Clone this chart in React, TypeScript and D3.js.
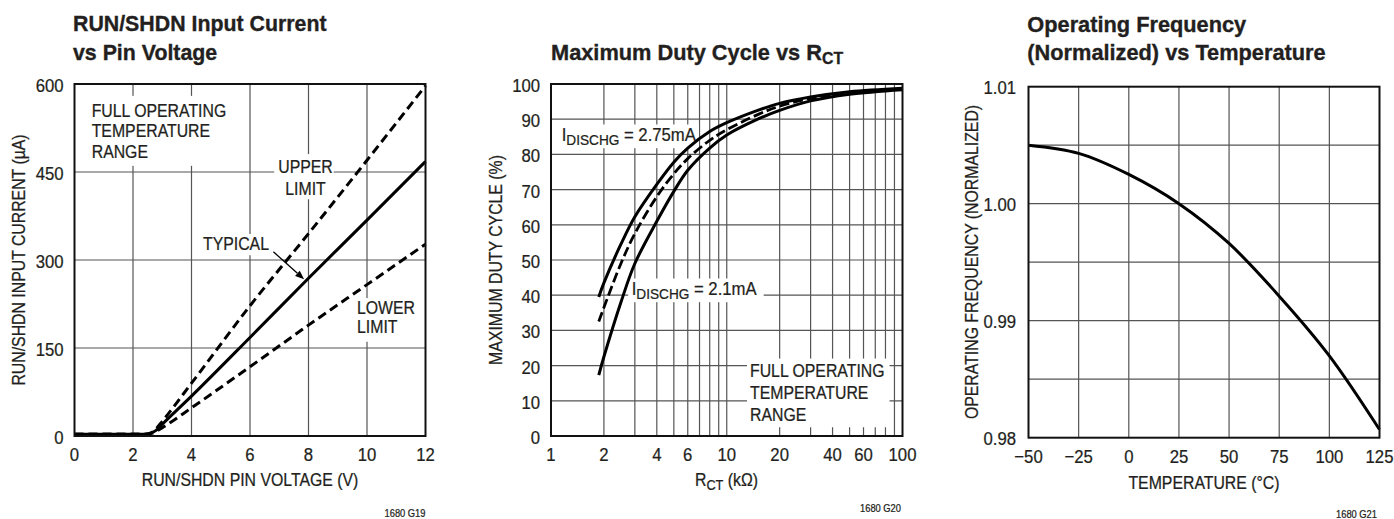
import React, { useEffect, useRef } from 'react';
import * as d3 from 'd3';

type Pt = [number, number];

// ---------- Chart 1: RUN/SHDN input current ----------
const c1Title = ['RUN/SHDN Input Current', 'vs Pin Voltage'];
const c1XTicks = [0, 2, 4, 6, 8, 10, 12];
const c1YTicks = [0, 150, 300, 450, 600];
const c1Typical: Pt[] = [[0, 3], [2.4, 3], [2.6, 5], [2.8, 10], [3, 20], [4, 68], [6, 168], [8, 269], [10, 368], [12, 468]];
const c1Upper: Pt[] = [[0, 3], [2.4, 3], [2.6, 5], [2.8, 13], [3, 25], [4, 90], [6, 222], [8, 345], [10, 470], [12, 597]];
const c1Lower: Pt[] = [[0, 3], [2.4, 3], [2.6, 4], [2.8, 8], [3, 14], [4, 48], [6, 118], [8, 189], [10, 258], [12, 327]];
const c1Arrow: Pt[] = [[6.8, 314], [7.85, 267]];

// ---------- Chart 2: Maximum duty cycle ----------
const c2XTicks = [1, 2, 4, 6, 10, 20, 40, 60, 100];
const c2XGrid = [2, 3, 4, 5, 6, 7, 8, 9, 10, 20, 30, 40, 50, 60, 70, 80, 90];
const c2YTicks = [0, 10, 20, 30, 40, 50, 60, 70, 80, 90, 100];
const c2High: Pt[] = [[1.87, 39.5], [2, 43.5], [2.5, 54.5], [3, 62.3], [4, 71.5], [5, 77.8], [6, 81.8], [8, 86.5], [10, 89], [15, 92.5], [20, 94.5], [30, 96.3], [50, 97.8], [100, 98.8]];
const c2Mid: Pt[] = [[1.87, 32.5], [2, 36.5], [2.5, 49], [3, 57.5], [4, 68], [5, 74.5], [6, 78.8], [8, 84], [10, 87], [15, 91.3], [20, 93.7], [30, 95.9], [50, 97.5], [100, 98.6]];
const c2Low: Pt[] = [[1.87, 17.3], [2, 22.5], [2.5, 38], [3, 49], [4, 61], [5, 69.5], [6, 75.5], [8, 81.8], [10, 85.5], [15, 90], [20, 92.5], [30, 95.2], [50, 97.1], [100, 98.4]];

// ---------- Chart 3: Operating frequency vs temperature ----------
const c3XTicks = [-50, -25, 0, 25, 50, 75, 100, 125];
const c3YGrid = [0.98, 0.985, 0.99, 0.995, 1.0, 1.005, 1.01];
const c3YTicks = [0.98, 0.99, 1.0, 1.01];
const c3Temp = [-50, -25, 0, 25, 50, 75, 100, 125];
const c3Freq = [1.005, 1.0043, 1.0025, 1.0, 0.9966, 0.9921, 0.987, 0.9807];

const FONT = "'Liberation Sans', Arial, Helvetica, sans-serif";
const INK = '#231f20';
const GRID = '#555';
const SX = 0.88;

type Seg = { t: string; sub?: boolean };
type Line = string | Seg[];
type Opt = { size?: number; anchor?: string; weight?: string; sx?: number; rot?: number; lh?: number; box?: number[]; subSize?: number; subDy?: number };

function label(parent: any, x: number, y: number, lines: Line[], o: Opt = {}) {
  const size = o.size ?? 18;
  const sx = o.sx ?? SX;
  const lh = o.lh ?? 20.5;
  const g = parent.append('g').attr('transform', `translate(${x},${y})${o.rot ? ` rotate(${o.rot})` : ''} scale(${sx},1)`);
  const tg = g.append('g');
  lines.forEach((ln, i) => {
    const t = tg.append('text').attr('x', 0).attr('y', i * lh)
      .attr('font-family', FONT).attr('font-size', size)
      .attr('font-weight', o.weight ?? 'normal')
      .attr('text-anchor', o.anchor ?? 'start').attr('fill', INK)
      .attr('stroke', INK).attr('stroke-width', o.weight === 'bold' ? 0.35 : 0.25);
    if (typeof ln === 'string') t.text(ln);
    else {
      let shifted = false;
      const d = o.subDy ?? 4;
      ln.forEach((s) => {
        const sp = t.append('tspan').text(s.t);
        if (s.sub) {
          sp.attr('font-size', o.subSize ?? size * 0.8);
          if (!shifted) { sp.attr('dy', d); shifted = true; }
        } else if (shifted) { sp.attr('dy', -d); shifted = false; }
      });
    }
  });
  if (o.box) {
    const [l, tp, r, b] = o.box;
    const bb = (tg.node() as SVGGElement).getBBox();
    g.insert('rect', ':first-child')
      .attr('x', bb.x - l / sx).attr('y', bb.y - tp)
      .attr('width', bb.width + (l + r) / sx).attr('height', bb.height + tp + b)
      .attr('fill', '#fff');
  }
  return g;
}

function grid(g: any, xs: any, ys: any, xv: number[], yv: number[]) {
  const [x0, x1] = xs.range();
  const [y0, y1] = ys.range();
  xv.forEach((v) => g.append('line').attr('x1', xs(v)).attr('x2', xs(v)).attr('y1', y0).attr('y2', y1).attr('stroke', GRID).attr('stroke-width', 1.2));
  yv.forEach((v) => g.append('line').attr('x1', x0).attr('x2', x1).attr('y1', ys(v)).attr('y2', ys(v)).attr('stroke', GRID).attr('stroke-width', 1.2));
}

function frame(g: any, xs: any, ys: any) {
  const [x0, x1] = xs.range();
  const [y0, y1] = ys.range();
  g.append('rect').attr('x', x0).attr('y', y1).attr('width', x1 - x0).attr('height', y0 - y1)
    .attr('fill', 'none').attr('stroke', '#111').attr('stroke-width', 2);
}

function curve(g: any, xs: any, ys: any, data: Pt[], dash?: string, w = 3, cv: any = d3.curveCatmullRom.alpha(0.5)) {
  const gen = d3.line<Pt>().x((d) => xs(d[0])).y((d) => ys(d[1])).curve(cv);
  g.append('path').attr('d', gen(data)).attr('fill', 'none').attr('stroke', '#000')
    .attr('stroke-width', w).attr('stroke-dasharray', dash ?? null);
}

function ticks(g: any, xs: any, ys: any, xv: number[], yv: number[], fx: (v: number) => string, fy: (v: number) => string, yOff = 8, gap = 11) {
  const [x0] = xs.range();
  const [y0] = ys.range();
  xv.forEach((v) => label(g, xs(v), y0 + 25, [fx(v)], { size: 19, anchor: 'middle' }));
  yv.forEach((v) => label(g, x0 - gap, ys(v) + yOff, [fy(v)], { size: 19, anchor: 'end' }));
}

export default function App() {
  const ref = useRef<SVGSVGElement>(null);
  useEffect(() => {
    const svg = d3.select(ref.current);
    svg.selectAll('*').remove();
    svg.append('rect').attr('width', 1394).attr('height', 519).attr('fill', '#fff');

    // ---- Chart 1 ----
    const x1 = d3.scaleLinear().domain([0, 12]).range([74.5, 425.5]);
    const y1 = d3.scaleLinear().domain([0, 600]).range([436, 84]);
    const g1 = svg.append('g');
    grid(g1, x1, y1, c1XTicks.slice(1, -1), c1YTicks.slice(1, -1));
    label(g1, 91.7, 116.8, ['FULL OPERATING', 'TEMPERATURE', 'RANGE'], { lh: 20.4, box: [16, 5, 4, 4] });
    label(g1, 305.5, 173, ['UPPER', 'LIMIT'], { anchor: 'middle', lh: 22, box: [4, 3, 1, 0] });
    label(g1, 203, 250, ['TYPICAL'], { box: [3, 0, 3, 1] });
    label(g1, 357, 314, ['LOWER', 'LIMIT'], { lh: 19.5, box: [3, 0, 3, 4] });
    curve(g1, x1, y1, c1Upper, '9,5', 3, d3.curveMonotoneX);
    curve(g1, x1, y1, c1Lower, '9,5', 3, d3.curveMonotoneX);
    curve(g1, x1, y1, c1Typical, undefined, 3, d3.curveMonotoneX);
    {
      const ax0 = x1(c1Arrow[0][0]), ay0 = y1(c1Arrow[0][1]);
      const ax1 = x1(c1Arrow[1][0]), ay1 = y1(c1Arrow[1][1]);
      const ang = Math.atan2(ay1 - ay0, ax1 - ax0);
      const L = 9, Wd = 3.5;
      const bx = ax1 - L * Math.cos(ang), by = ay1 - L * Math.sin(ang);
      g1.append('line').attr('x1', ax0).attr('y1', ay0).attr('x2', bx).attr('y2', by).attr('stroke', '#000').attr('stroke-width', 1.3);
      const px = -Math.sin(ang) * Wd, py = Math.cos(ang) * Wd;
      g1.append('polygon').attr('points', `${ax1},${ay1} ${bx + px},${by + py} ${bx - px},${by - py}`).attr('fill', '#000');
    }
    frame(g1, x1, y1);
    ticks(g1, x1, y1, c1XTicks, c1YTicks, (v) => String(v), (v) => String(v), 8, 11);
    label(g1, 250, 486, ['RUN/SHDN PIN VOLTAGE (V)'], { anchor: 'middle' });
    label(g1, 25, 260, ['RUN/SHDN INPUT CURRENT (µA)'], { anchor: 'middle', rot: -90 });
    label(g1, 73, 30.7, c1Title, { size: 22, weight: 'bold', sx: 0.97, lh: 29.3 });
    label(g1, 425.5, 517, ['1680 G19'], { size: 11, anchor: 'end', sx: 0.85 });

    // ---- Chart 2 ----
    const x2 = d3.scaleLog().domain([1, 100]).range([551, 902.5]);
    const y2 = d3.scaleLinear().domain([0, 100]).range([436, 84]);
    const g2 = svg.append('g');
    grid(g2, x2, y2, c2XGrid, c2YTicks.slice(1, -1));
    label(g2, 561.7, 140.5, [[{ t: 'I' }, { t: 'DISCHG', sub: true }, { t: ' = 2.75mA' }]], { size: 19, subSize: 15.5, subDy: 4.5, box: [8.5, -1, 3, 0] });
    label(g2, 631.7, 294.5, [[{ t: 'I' }, { t: 'DISCHG', sub: true }, { t: ' = 2.1mA' }]], { size: 19, subSize: 15.5, subDy: 4.5, box: [3.5, -1, 7, 0] });
    label(g2, 750, 377, ['FULL OPERATING', 'TEMPERATURE', 'RANGE'], { lh: 22, box: [3, 2.5, 5, 2] });
    curve(g2, x2, y2, c2High);
    curve(g2, x2, y2, c2Mid, '10,4', 2.8);
    curve(g2, x2, y2, c2Low);
    frame(g2, x2, y2);
    ticks(g2, x2, y2, c2XTicks, c2YTicks, (v) => String(v), (v) => String(v), 8, 11);
    label(g2, 726.5, 486, [[{ t: 'R' }, { t: 'CT', sub: true }, { t: ' (kΩ)' }]], { anchor: 'middle', subSize: 14.5, subDy: 4 });
    label(g2, 501.7, 260, ['MAXIMUM DUTY CYCLE (%)'], { anchor: 'middle', rot: -90 });
    label(g2, 551, 60, [[{ t: 'Maximum Duty Cycle vs R' }, { t: 'CT', sub: true }]], { size: 22, weight: 'bold', sx: 0.99, subSize: 16, subDy: 4 });
    label(g2, 901, 511.7, ['1680 G20'], { size: 11, anchor: 'end', sx: 0.85 });

    // ---- Chart 3 ----
    const x3 = d3.scaleLinear().domain([-50, 125]).range([1028.5, 1379.5]);
    const y3 = d3.scaleLinear().domain([0.98, 1.01]).range([437.7, 86.7]);
    const g3 = svg.append('g');
    grid(g3, x3, y3, c3XTicks.slice(1, -1), c3YGrid.slice(1, -1));
    const pts3: Pt[] = c3Temp.map((t, i) => [t, c3Freq[i]]);
    curve(g3, x3, y3, pts3);
    frame(g3, x3, y3);
    ticks(g3, x3, y3, c3XTicks, c3YTicks, (v) => (v < 0 ? '\u2212' + Math.abs(v) : String(v)), (v) => v.toFixed(2), 7.5, 12.5);
    label(g3, 1204, 489, ['TEMPERATURE (°C)'], { anchor: 'middle' });
    label(g3, 978.3, 262, ['OPERATING FREQUENCY (NORMALIZED)'], { anchor: 'middle', rot: -90 });
    label(g3, 1027.3, 31.5, ['Operating Frequency', '(Normalized) vs Temperature'], { size: 22, weight: 'bold', sx: 0.99, lh: 28.5 });
    label(g3, 1377, 518, ['1680 G21'], { size: 11, anchor: 'end', sx: 0.85 });
  }, []);

  return (
    <svg ref={ref} width={1394} height={519} style={{ position: 'absolute', left: 0, top: 0, display: 'block' }} />
  );
}
